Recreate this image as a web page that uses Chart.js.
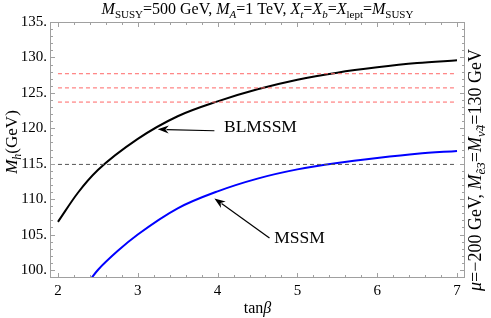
<!DOCTYPE html>
<html>
<head>
<meta charset="utf-8">
<script src="https://cdn.jsdelivr.net/npm/chart.js@4/dist/chart.umd.min.js"></script>
<style>
  body { margin: 0; background: #fff; }
  canvas { display: block; }
</style>
</head>
<body>
<canvas id="chart" width="491" height="318"></canvas>
<script>
// data
const blmssmX = [2, 2.25, 2.5, 3, 3.5, 4, 4.5, 5, 5.5, 6, 6.5, 7];
const blmssmMh = [106.8, 110.9, 114.1, 118.5, 121.7, 123.8, 125.5, 126.85, 127.85, 128.6, 129.2, 129.6];
const mssmX = [2.4, 2.5, 2.75, 3, 3.5, 4, 4.5, 5, 5.5, 6, 6.5, 7];
const mssmMh = [98.6, 100.0, 102.7, 105.0, 108.7, 111.1, 112.9, 114.2, 115.1, 115.8, 116.4, 116.8];
const redLines = [127.7, 125.7, 123.7];
const grayLine = 114.9;
const xTicks = [2, 3, 4, 5, 6, 7];
const yTicks = [100, 105, 110, 115, 120, 125, 130, 135];

const SERIF = '"Liberation Serif", "DejaVu Serif", serif';

function pts(xs, ys) {
  return xs.map((x, i) => ({ x: x, y: ys[i] }));
}

function hline(v, color) {
  return {
    data: [{ x: 2, y: v }, { x: 7, y: v }],
    borderColor: color,
    borderWidth: 1,
    borderDash: [4, 3],
    pointRadius: 0,
  };
}

// draws text made of segments: {t, it, sub}
function drawRich(ctx, segs, x, y, size, align) {
  const subSize = Math.round(size * 0.7);
  const font = (s) => `${s.it ? "italic " : ""}${s.sub ? subSize : size}px ${SERIF}`;
  let w = 0;
  segs.forEach((s) => { ctx.font = font(s); w += ctx.measureText(s.t).width; });
  let cx = align === "center" ? x - w / 2 : x;
  ctx.textBaseline = "alphabetic";
  ctx.textAlign = "left";
  segs.forEach((s) => {
    ctx.font = font(s);
    ctx.fillText(s.t, cx, s.sub ? y + size * 0.22 : y);
    cx += ctx.measureText(s.t).width;
  });
}

function arrow(ctx, x1, y1, x2, y2) {
  const a = Math.atan2(y2 - y1, x2 - x1);
  const len = 11, half = 4;
  ctx.beginPath();
  ctx.moveTo(x1, y1);
  ctx.lineTo(x2 - Math.cos(a) * len * 0.8, y2 - Math.sin(a) * len * 0.8);
  ctx.stroke();
  ctx.beginPath();
  ctx.moveTo(x2, y2);
  ctx.lineTo(x2 - Math.cos(a) * len - Math.sin(a) * half, y2 - Math.sin(a) * len + Math.cos(a) * half);
  ctx.lineTo(x2 - Math.cos(a) * len * 0.7, y2 - Math.sin(a) * len * 0.7);
  ctx.lineTo(x2 - Math.cos(a) * len + Math.sin(a) * half, y2 - Math.sin(a) * len - Math.cos(a) * half);
  ctx.closePath();
  ctx.fill();
}

const framePlugin = {
  id: "frame",
  afterDatasetsDraw(chart) {
    const { ctx, chartArea: a, scales: { x, y } } = chart;
    ctx.save();
    // frame + inside ticks
    ctx.strokeStyle = "#a0a0a0";
    ctx.lineWidth = 1;
    ctx.strokeRect(a.left + 0.5, a.top + 0.5, a.width - 1, a.height - 1);
    ctx.beginPath();
    for (let i = 0; i <= 25; i++) {
      const v = 2 + i * 0.2;
      const px = Math.round(x.getPixelForValue(v)) + 0.5;
      const l = i % 5 === 0 ? 5 : 3;
      ctx.moveTo(px, a.bottom); ctx.lineTo(px, a.bottom - l);
      ctx.moveTo(px, a.top); ctx.lineTo(px, a.top + l);
    }
    for (let v = 100; v <= 135; v++) {
      const py = Math.round(y.getPixelForValue(v)) + 0.5;
      const l = v % 5 === 0 ? 5 : 3;
      ctx.moveTo(a.left, py); ctx.lineTo(a.left + l, py);
      ctx.moveTo(a.right, py); ctx.lineTo(a.right - l, py);
    }
    ctx.stroke();

    // annotations
    ctx.strokeStyle = "#000";
    ctx.fillStyle = "#000";
    ctx.lineWidth = 1.2;
    arrow(ctx, x.getPixelForValue(3.96), y.getPixelForValue(119.65),
      x.getPixelForValue(3.25), y.getPixelForValue(119.85));
    arrow(ctx, x.getPixelForValue(4.65), y.getPixelForValue(104.5),
      x.getPixelForValue(3.96), y.getPixelForValue(110.1));
    ctx.font = `17.5px ${SERIF}`;
    ctx.textBaseline = "middle";
    ctx.fillText("BLMSSM", x.getPixelForValue(4.08), y.getPixelForValue(120.1));
    ctx.fillText("MSSM", x.getPixelForValue(4.71), y.getPixelForValue(104.5));

    // title
    drawRich(ctx, [
      { t: "M", it: 1 }, { t: "SUSY", sub: 1 }, { t: "=500 GeV, " },
      { t: "M", it: 1 }, { t: "A", it: 1, sub: 1 }, { t: "=1 TeV, " },
      { t: "X", it: 1 }, { t: "t", it: 1, sub: 1 }, { t: "=" },
      { t: "X", it: 1 }, { t: "b", it: 1, sub: 1 }, { t: "=" },
      { t: "X", it: 1 }, { t: "lept", sub: 1 }, { t: "=" },
      { t: "M", it: 1 }, { t: "SUSY", sub: 1 },
    ], (a.left + a.right) / 2, 14, 16, "center");

    // x title
    drawRich(ctx, [{ t: "tan" }, { t: "\u03b2", it: 1 }], (a.left + a.right) / 2, 313, 16, "center");

    // y title
    ctx.save();
    ctx.translate(17, 142);
    ctx.rotate(-Math.PI / 2);
    drawRich(ctx, [{ t: "M", it: 1 }, { t: "h", it: 1, sub: 1 }, { t: "(GeV)" }], 0, 0, 17, "center");
    ctx.restore();

    // right text
    ctx.save();
    ctx.translate(481, 170);
    ctx.rotate(-Math.PI / 2);
    drawRich(ctx, [
      { t: "\u03bc", it: 1 }, { t: "=\u2212200 GeV, " },
      { t: "M", it: 1 }, { t: "\u1ebd3", it: 1, sub: 1 }, { t: "=" },
      { t: "M", it: 1 }, { t: "\u03bd\u03034", it: 1, sub: 1 }, { t: "=130 GeV" },
    ], 0, 0, 18, "center");
    ctx.restore();
    ctx.restore();
  },
};

new Chart(document.getElementById("chart"), {
  type: "line",
  data: {
    datasets: [
      hline(redLines[0], "#ff6666"),
      hline(redLines[1], "#ff6666"),
      hline(redLines[2], "#ff6666"),
      hline(grayLine, "#555555"),
      {
        label: "BLMSSM",
        data: pts(blmssmX, blmssmMh),
        borderColor: "#000000",
        borderWidth: 2,
        pointRadius: 0,
        cubicInterpolationMode: "monotone",
      },
      {
        label: "MSSM",
        data: pts(mssmX, mssmMh),
        borderColor: "#0000ff",
        borderWidth: 2,
        pointRadius: 0,
        cubicInterpolationMode: "monotone",
      },
    ],
  },
  options: {
    responsive: false,
    animation: false,
    layout: { padding: { top: 22, right: 26, left: 0, bottom: 0 } },
    plugins: { legend: { display: false }, tooltip: { enabled: false } },
    scales: {
      x: {
        type: "linear",
        min: 1.9,
        max: 7.1,
        afterFit: (s) => { s.height = 40; },
        afterBuildTicks: (s) => { s.ticks = xTicks.map((v) => ({ value: v })); },
        grid: { display: false, drawTicks: false },
        border: { display: false },
        ticks: { color: "#000", padding: 4, font: { family: SERIF, size: 15 } },
      },
      y: {
        type: "linear",
        min: 98.87,
        max: 135,
        afterFit: (s) => { s.width = 50; },
        afterBuildTicks: (s) => { s.ticks = yTicks.map((v) => ({ value: v })); },
        grid: { display: false, drawTicks: false },
        border: { display: false },
        ticks: {
          color: "#000",
          padding: 3,
          font: { family: SERIF, size: 15 },
          callback: (v) => v + ".",
        },
      },
    },
  },
  plugins: [framePlugin],
});
</script>
</body>
</html>
